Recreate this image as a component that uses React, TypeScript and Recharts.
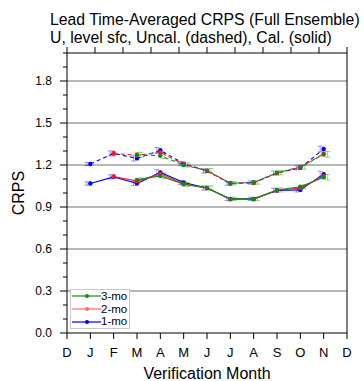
import React from 'react';
import { ComposedChart, Line, XAxis, YAxis, Scatter, ErrorBar, ReferenceLine, Legend } from 'recharts';

// ---- data ----
const monthLabels = ['D', 'J', 'F', 'M', 'A', 'M', 'J', 'J', 'A', 'S', 'O', 'N', 'D'];
const monthTicks = [0, 1, 2, 3, 4, 5, 6, 7, 8, 9, 10, 11, 12];
const dataMonths = [1, 2, 3, 4, 5, 6, 7, 8, 9, 10, 11];

// calibrated (solid)
const cal1mo = [1.068, 1.115, 1.068, 1.147, 1.075, 1.036, 0.958, 0.958, 1.018, 1.022, 1.135];
const cal2mo = [null, 1.118, 1.085, 1.137, 1.065, 1.035, 0.955, 0.955, 1.02, 1.035, 1.12];
const cal3mo = [null, null, 1.094, 1.122, 1.062, 1.036, 0.958, 0.958, 1.022, 1.045, 1.113];
// uncalibrated (dashed)
const unc1mo = [1.207, 1.283, 1.247, 1.305, 1.21, 1.158, 1.068, 1.075, 1.142, 1.18, 1.314];
const unc2mo = [null, 1.283, 1.27, 1.29, 1.205, 1.158, 1.068, 1.072, 1.142, 1.185, 1.28];
const unc3mo = [null, null, 1.273, 1.266, 1.2, 1.16, 1.07, 1.075, 1.145, 1.185, 1.276];
// error half-widths
const errCal1 = [0.012, 0.015, 0.015, 0.02, 0.015, 0.015, 0.012, 0.012, 0.015, 0.015, 0.02];
const errCal2 = [null, 0.015, 0.015, 0.02, 0.015, 0.015, 0.012, 0.012, 0.015, 0.015, 0.02];
const errCal3 = [null, null, 0.015, 0.02, 0.015, 0.015, 0.012, 0.012, 0.015, 0.015, 0.02];
const errUnc1 = [0.012, 0.018, 0.018, 0.02, 0.015, 0.015, 0.012, 0.012, 0.015, 0.015, 0.02];
const errUnc2 = [null, 0.018, 0.018, 0.02, 0.015, 0.015, 0.012, 0.012, 0.015, 0.015, 0.02];
const errUnc3 = [null, null, 0.018, 0.02, 0.015, 0.015, 0.012, 0.012, 0.015, 0.015, 0.02];

const majorTicks = [0, 0.3, 0.6, 0.9, 1.2, 1.5, 1.8];
const allTicks = [0, 0.1, 0.2, 0.3, 0.4, 0.5, 0.6, 0.7, 0.8, 0.9, 1.0, 1.1, 1.2, 1.3, 1.4, 1.5, 1.6, 1.7, 1.8, 1.9, 2.0];
const gridValues = [0.3, 0.6, 0.9, 1.2, 1.5, 1.8];

const titleLine1 = 'Lead Time-Averaged CRPS (Full Ensemble)';
const titleLine2 = 'U, level sfc, Uncal. (dashed), Cal. (solid)';
const yLabel = 'CRPS';
const xLabel = 'Verification Month';

// ---- styles ----
const BLUE = '#0000ff';
const RED = '#ff1a1a';
const GREEN = '#138a13';
const FONT = '"Liberation Sans", Arial, Helvetica, sans-serif';

const legendItems = [
  { label: '3-mo', color: GREEN },
  { label: '2-mo', color: '#ff6b6b' },
  { label: '1-mo', color: BLUE },
];

const rows = dataMonths.map((m, i) => ({
  x: m,
  c1: cal1mo[i], c2: cal2mo[i], c3: cal3mo[i],
  u1: unc1mo[i], u2: unc2mo[i], u3: unc3mo[i],
}));

function errPoints(vals: (number | null)[], errs: (number | null)[], dodge: number) {
  const out: { x: number; y: number; e: number }[] = [];
  vals.forEach((v, i) => {
    if (v != null && errs[i] != null) out.push({ x: dataMonths[i] + dodge, y: v, e: errs[i] as number });
  });
  return out;
}

const isMajor = (v: number) => majorTicks.some((m) => Math.abs(m - v) < 1e-6);

const LeftTick = (props: any) => {
  const { x, y, payload } = props;
  const v = payload.value as number;
  if (!isMajor(v)) return <g />;
  return (
    <g>
      <line x1={x + 8} x2={x + 11} y1={y} y2={y} stroke="#000" strokeWidth={1} />
      <text x={x} y={y} dy="0.36em" textAnchor="end" fontSize={12} fill="#000" fontFamily={FONT}>
        {v.toFixed(1)}
      </text>
    </g>
  );
};

const RightTick = (props: any) => {
  const { x, y, payload } = props;
  const v = payload.value as number;
  if (!isMajor(v)) return <g />;
  return <line x1={x} x2={x + 3} y1={y} y2={y} stroke="#000" strokeWidth={1} />;
};

const EmptyTick = () => <g />;
const EmptyShape = () => <g />;

const LegendBox = () => (
  <div
    style={{
      border: '1px solid #c8c8c8',
      background: '#fff',
      padding: '0 0 0 1px',
      width: 60,
      boxSizing: 'border-box',
      fontFamily: FONT,
      whiteSpace: 'nowrap',
    }}
  >
    {legendItems.map((it) => (
      <div key={it.label} style={{ display: 'flex', alignItems: 'center', height: 12.7, whiteSpace: 'nowrap' }}>
        <svg width={29} height={10} style={{ display: 'block', flex: '0 0 auto' }}>
          <line x1={0} x2={29} y1={5} y2={5} stroke={it.color} strokeWidth={1.2} />
          <circle cx={15} cy={5} r={2} fill={it.color} />
        </svg>
        <span style={{ fontSize: 11.5, lineHeight: '11px', color: '#000', whiteSpace: 'nowrap' }}>{it.label}</span>
      </div>
    ))}
  </div>
);

const dotProps = (c: string) => ({ r: 2.2, fill: c, stroke: 'none' });

export default function App() {
  return (
    <div style={{ position: 'absolute', left: 0, top: 0, width: 364, height: 381, background: '#fff' }}>
      <ComposedChart
        width={364}
        height={381}
        data={rows}
        margin={{ top: 0, right: 0, bottom: 0, left: 0 }}
        style={{ fontFamily: FONT }}
      >
        <XAxis
          dataKey="x"
          type="number"
          domain={[0, 12]}
          ticks={monthTicks}
          interval={0}
          tickFormatter={(v: number) => monthLabels[v]}
          height={48}
          tickSize={6}
          tickMargin={9}
          axisLine={{ stroke: '#000' }}
          tickLine={{ stroke: '#000' }}
          tick={{ fontSize: 13, fill: '#000' }}
        />
        <XAxis
          xAxisId="top"
          orientation="top"
          type="number"
          domain={[0, 12]}
          ticks={monthTicks}
          interval={0}
          height={53}
          tickSize={6}
          axisLine={{ stroke: '#000' }}
          tickLine={{ stroke: '#000' }}
          tick={EmptyTick}
        />
        <YAxis
          type="number"
          domain={[0, 2]}
          ticks={allTicks}
          interval={0}
          width={67}
          tickSize={4}
          tickMargin={11}
          axisLine={{ stroke: '#000' }}
          tickLine={{ stroke: '#000' }}
          tick={LeftTick}
          allowDataOverflow
        />
        <YAxis
          yAxisId="right"
          orientation="right"
          type="number"
          domain={[0, 2]}
          ticks={allTicks}
          interval={0}
          width={17}
          tickSize={4}
          tickMargin={0}
          axisLine={{ stroke: '#000' }}
          tickLine={{ stroke: '#000' }}
          tick={RightTick}
        />
        {gridValues.map((g) => (
          <ReferenceLine key={g} y={g} stroke="#707070" strokeWidth={1} />
        ))}

        <Scatter data={errPoints(unc1mo, errUnc1, -0.15)} dataKey="y" shape={EmptyShape} isAnimationActive={false}>
          <ErrorBar dataKey="e" direction="y" width={2.5} stroke="rgba(0,0,255,0.4)" strokeWidth={1} isAnimationActive={false} />
        </Scatter>
        <Scatter data={errPoints(cal1mo, errCal1, -0.15)} dataKey="y" shape={EmptyShape} isAnimationActive={false}>
          <ErrorBar dataKey="e" direction="y" width={2.5} stroke="rgba(0,0,255,0.4)" strokeWidth={1} isAnimationActive={false} />
        </Scatter>
        <Scatter data={errPoints(unc2mo, errUnc2, 0)} dataKey="y" shape={EmptyShape} isAnimationActive={false}>
          <ErrorBar dataKey="e" direction="y" width={2.5} stroke="rgba(255,0,0,0.3)" strokeWidth={1} isAnimationActive={false} />
        </Scatter>
        <Scatter data={errPoints(cal2mo, errCal2, 0)} dataKey="y" shape={EmptyShape} isAnimationActive={false}>
          <ErrorBar dataKey="e" direction="y" width={2.5} stroke="rgba(255,0,0,0.3)" strokeWidth={1} isAnimationActive={false} />
        </Scatter>
        <Scatter data={errPoints(unc3mo, errUnc3, 0.17)} dataKey="y" shape={EmptyShape} isAnimationActive={false}>
          <ErrorBar dataKey="e" direction="y" width={2.5} stroke="rgba(0,140,0,0.4)" strokeWidth={1} isAnimationActive={false} />
        </Scatter>
        <Scatter data={errPoints(cal3mo, errCal3, 0.17)} dataKey="y" shape={EmptyShape} isAnimationActive={false}>
          <ErrorBar dataKey="e" direction="y" width={2.5} stroke="rgba(0,140,0,0.4)" strokeWidth={1} isAnimationActive={false} />
        </Scatter>

        <Line dataKey="u1" stroke={BLUE} strokeWidth={1.1} strokeDasharray="4 3" dot={dotProps(BLUE)} activeDot={false} isAnimationActive={false} />
        <Line dataKey="c1" stroke={BLUE} strokeWidth={1.1} dot={dotProps(BLUE)} activeDot={false} isAnimationActive={false} />
        <Line dataKey="u2" stroke={RED} strokeWidth={1.1} strokeDasharray="4 3" dot={dotProps(RED)} activeDot={false} isAnimationActive={false} />
        <Line dataKey="c2" stroke={RED} strokeWidth={1.1} dot={dotProps(RED)} activeDot={false} isAnimationActive={false} />
        <Line dataKey="u3" stroke={GREEN} strokeWidth={1.1} strokeDasharray="4 3" dot={dotProps(GREEN)} activeDot={false} isAnimationActive={false} />
        <Line dataKey="c3" stroke={GREEN} strokeWidth={1.1} dot={dotProps(GREEN)} activeDot={false} isAnimationActive={false} />

        <Legend
          layout="horizontal"
          verticalAlign="middle"
          align="center"
          content={LegendBox}
          wrapperStyle={{ position: 'absolute', left: 70, top: 289, width: 60, height: 'auto' }}
        />
      </ComposedChart>
      <svg
        width={364}
        height={381}
        style={{ position: 'absolute', left: 0, top: 0, pointerEvents: 'none' }}
        fontFamily={FONT}
      >
        <text x={50} y={25} fontSize={15.8} fill="#000">{titleLine1}</text>
        <text x={50} y={43} fontSize={15.8} fill="#000">{titleLine2}</text>
        <text x={24} y={193} fontSize={16} fill="#000" textAnchor="middle" transform="rotate(-90 24 193)">{yLabel}</text>
        <text x={207} y={379} fontSize={16} fill="#000" textAnchor="middle">{xLabel}</text>
      </svg>
    </div>
  );
}
